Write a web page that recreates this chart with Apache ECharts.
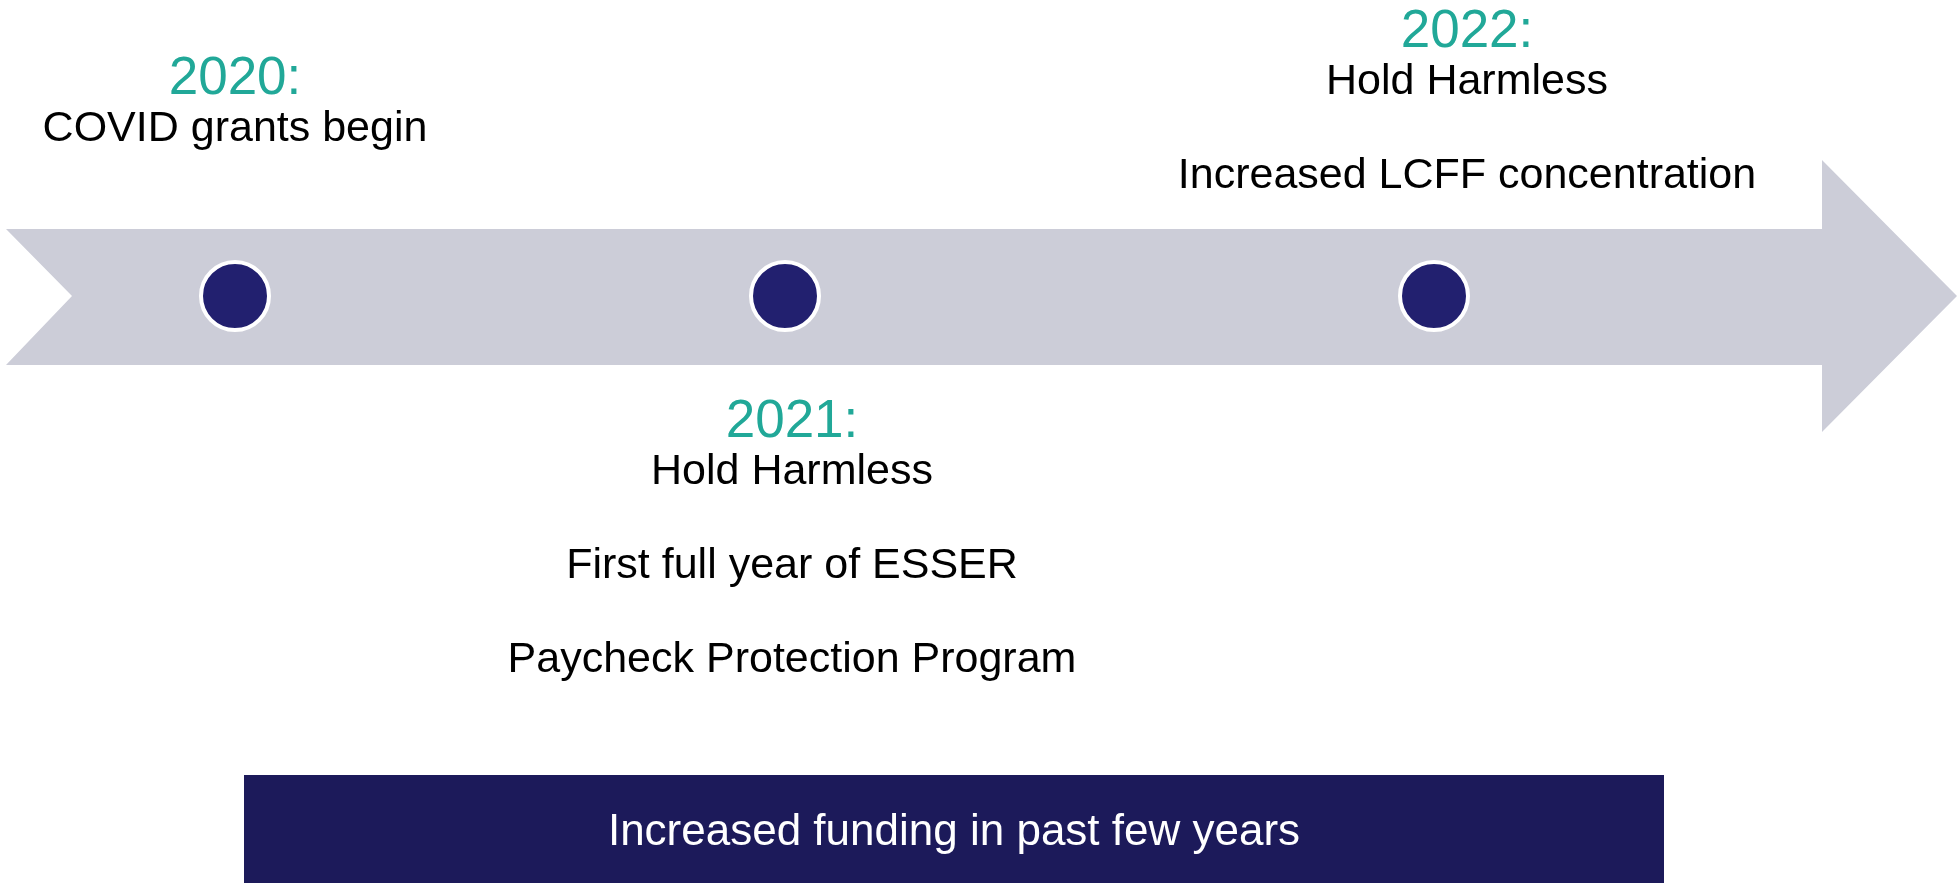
<!DOCTYPE html>
<html>
<head>
<meta charset="utf-8">
<title>Funding timeline</title>
<script src="https://cdn.jsdelivr.net/npm/echarts@6/dist/echarts.min.js"></script>
<style>
  html, body { margin: 0; padding: 0; background: #fff; }
  #main { width: 1959px; height: 890px; }
</style>
</head>
<body>
<div id="main"></div>
<script>
// timeline data
var years = ["2020:", "2021:", "2022:"];
var eventX = [235, 785, 1434];
var notes = [
  ["COVID grants begin"],
  ["Hold Harmless", "First full year of ESSER", "Paycheck Protection Program"],
  ["Hold Harmless", "Increased LCFF concentration"]
];
var bannerText = "Increased funding in past few years";

var FONT = "'Liberation Sans', Arial, sans-serif";
var lineY = 296;

// arrow outline and banner box (in the hidden axis units = px)
var arrowPts = [[6, 229], [1822, 229], [1822, 160], [1957, 296], [1822, 432], [1822, 365], [6, 365], [72, 296]];
var bannerBox = [244, 775, 1664, 883];

// where each event's text sits relative to its dot
var labelPlace = [
  { position: "top", distance: 107, offset: [0, 0] },
  { position: "bottom", distance: 64, offset: [7, 0] },
  { position: "top", distance: 60, offset: [33, 0] }
];

function labelText(i) {
  var s = "{y|" + years[i] + "}";
  notes[i].forEach(function (n, k) {
    s += k === 0 ? "\n{t|" + n + "}" : "\n\n{t|" + n + "}";
  });
  return s;
}

var chart = echarts.init(document.getElementById("main"));

chart.setOption({
  animation: false,
  grid: { left: 0, right: 0, top: 0, bottom: 0 },
  xAxis: { type: "value", min: 0, max: 1959, show: false },
  yAxis: { type: "value", min: 0, max: 890, inverse: true, show: false },
  series: [
    {
      // grey arrow
      type: "custom",
      silent: true,
      data: [[0, 0]],
      z: 1,
      renderItem: function (params, api) {
        return {
          type: "polygon",
          shape: { points: arrowPts.map(function (p) { return api.coord(p); }) },
          style: { fill: "#cccdd8" }
        };
      }
    },
    {
      type: "scatter",
      z: 3,
      symbol: "circle",
      symbolSize: 68,
      itemStyle: { color: "#22206f", borderColor: "#fff", borderWidth: 4, opacity: 1 },
      emphasis: { disabled: true },
      data: eventX.map(function (x, i) {
        return {
          value: [x, lineY],
          label: {
            show: true,
            position: labelPlace[i].position,
            distance: labelPlace[i].distance,
            offset: labelPlace[i].offset,
            align: "center",
            lineHeight: 47,
            formatter: labelText(i),
            rich: {
              y: { fontFamily: FONT, fontSize: 53, color: "#21a898", lineHeight: 53, align: "center" },
              t: { fontFamily: FONT, fontSize: 43, color: "#000", lineHeight: 47, align: "center" }
            }
          }
        };
      })
    },
    {
      // navy banner under the arrow
      type: "custom",
      silent: true,
      data: [[0, 0]],
      z: 2,
      renderItem: function (params, api) {
        var p0 = api.coord([bannerBox[0], bannerBox[1]]);
        var p1 = api.coord([bannerBox[2], bannerBox[3]]);
        return {
          type: "rect",
          shape: { x: p0[0], y: p0[1], width: p1[0] - p0[0], height: p1[1] - p0[1] },
          style: { fill: "#1c1a5a" },
          textContent: {
            style: { text: bannerText, fill: "#fff", fontFamily: FONT, fontSize: 44 }
          },
          textConfig: { position: "inside", offset: [0, 4] }
        };
      }
    }
  ]
});
</script>
</body>
</html>
